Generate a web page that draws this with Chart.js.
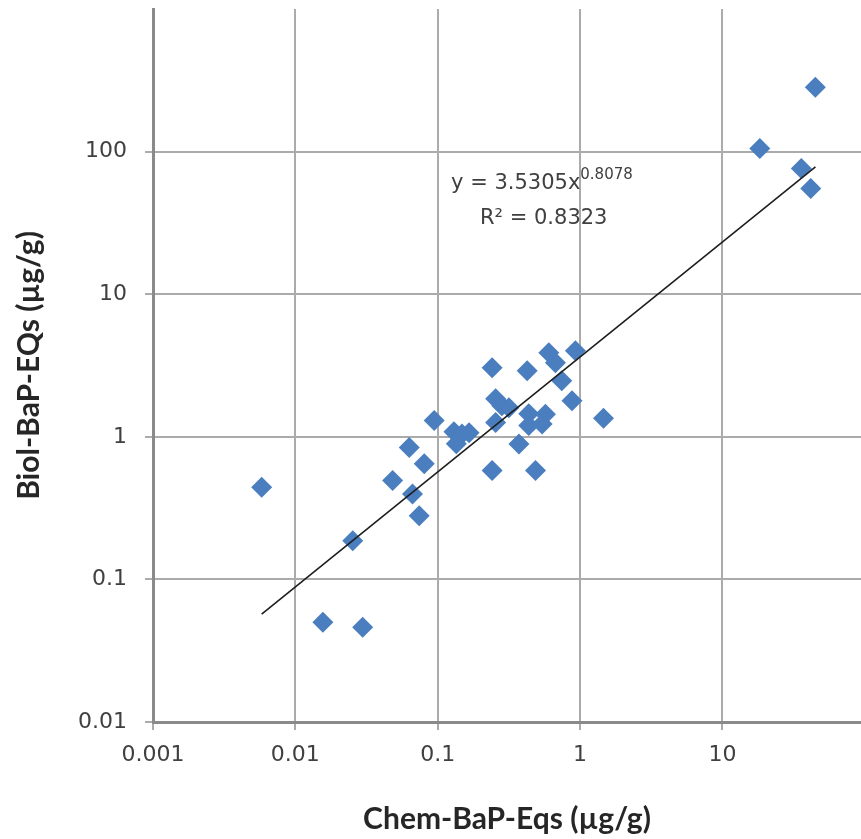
<!DOCTYPE html>
<html>
<head>
<meta charset="utf-8">
<script src="https://cdn.jsdelivr.net/npm/chart.js@4/dist/chart.umd.min.js"></script>
<style>
  html, body { margin: 0; padding: 0; background: #fff; overflow: hidden; }
  #wrap { width: 861px; height: 839px; position: relative; }
  canvas { display: block; }
</style>
</head>
<body>
<div id="wrap"><canvas id="chart"></canvas></div>
<script>
// valori (scala log)
const chemEqs = [0.0058, 0.0156, 0.0297, 0.0253, 0.0482, 0.0631, 0.0665, 0.0741, 0.0804, 0.0944,
  0.130, 0.148, 0.135, 0.166, 0.241, 0.255, 0.282, 0.255, 0.241, 0.316,
  0.372, 0.425, 0.436, 0.436, 0.486, 0.541, 0.571, 0.603, 0.671, 0.743,
  0.927, 0.877, 1.46, 18.3, 35.8, 41.7, 44.9];
const biolEqs = [0.443, 0.0501, 0.0462, 0.187, 0.493, 0.843, 0.397, 0.280, 0.646, 1.30,
  1.086, 1.047, 0.895, 1.069, 3.05, 1.85, 1.65, 1.26, 0.580, 1.60,
  0.891, 2.90, 1.45, 1.20, 0.580, 1.23, 1.44, 3.88, 3.30, 2.47,
  4.01, 1.79, 1.35, 105, 76.2, 55.2, 283];

// linea di tendenza (estremi)
const trendX = [0.0058, 45];
const trendY = [0.057, 78];

const xTicks = [0.001, 0.01, 0.1, 1, 10];
const xTickLabels = ["0.001", "0.01", "0.1", "1", "10"];
const yTicks = [0.01, 0.1, 1, 10, 100];
const yTickLabels = ["0.01", "0.1", "1", "10", "100"];

const eqMain = "y = 3.5305x";
const eqExp = "0.8078";
const r2Label = "R² = 0.8323";

const tickFont = { family: "'DejaVu Sans', sans-serif", size: 22 };
const titleFont = { family: "Lato, 'Open Sans', sans-serif", size: 30, weight: "bold" };

// Scrive l'equazione della tendenza
const equationPlugin = {
  id: "equation",
  afterDatasetsDraw(chart) {
    const { ctx, scales } = chart;
    const x0 = scales.x.getPixelForValue(0.124);
    const y1 = scales.y.getPixelForValue(60);
    const y2 = scales.y.getPixelForValue(34);
    ctx.save();
    ctx.fillStyle = "#404040";
    ctx.textBaseline = "middle";
    ctx.font = "21px 'DejaVu Sans', sans-serif";
    ctx.fillText(eqMain, x0, y1);
    const w = ctx.measureText(eqMain).width;
    ctx.font = "15px 'DejaVu Sans', sans-serif";
    ctx.fillText(eqExp, x0 + w, y1 - 8);
    ctx.font = "21px 'DejaVu Sans', sans-serif";
    ctx.fillText(r2Label, x0 + 29, y2);
    ctx.restore();
  }
};

const ctx = document.getElementById("chart").getContext("2d");

new Chart(ctx, {
  type: "scatter",
  data: {
    datasets: [
      {
        label: "Tendenza",
        data: trendX.map((x, i) => ({ x: x, y: trendY[i] })),
        showLine: true,
        borderColor: "#1e1e1e",
        borderWidth: 1.6,
        pointRadius: 0,
        order: 0,
      },
      {
        label: "BaP-Eqs",
        data: chemEqs.map((x, i) => ({ x: x, y: biolEqs[i] })),
        pointStyle: "rectRot",
        pointRadius: 10.5,
        pointBackgroundColor: "#4a7ebf",
        pointBorderWidth: 0,
        order: 1,
      },
    ],
  },
  options: {
    responsive: true,
    maintainAspectRatio: false,
    animation: false,
    layout: { autoPadding: false, padding: { top: 9, right: 0, left: 0, bottom: 0 } },
    plugins: { legend: { display: false }, tooltip: { enabled: false } },
    scales: {
      x: {
        type: "logarithmic",
        position: "bottom",
        min: 0.001,
        max: 94,
        afterBuildTicks: (s) => { s.ticks = xTicks.map((v) => ({ value: v })); },
        afterFit: (s) => { s.height = 117; s.paddingLeft = 0; s.paddingRight = 0; },
        ticks: {
          callback: (v, i) => xTickLabels[i],
          font: tickFont,
          color: "#404040",
          padding: 12,
          maxRotation: 0,
          autoSkip: false,
        },
        grid: { color: "#ababab", lineWidth: 2, tickLength: 8 },
        border: { color: "#8a8a8a", width: 3 },
        title: {
          display: true,
          text: "Chem-BaP-Eqs (µg/g)",
          font: titleFont,
          color: "#262626",
          padding: { top: 4, bottom: 2 },
        },
      },
      y: {
        type: "logarithmic",
        min: 0.01,
        max: 1000,
        afterBuildTicks: (s) => { s.ticks = yTicks.map((v) => ({ value: v })); },
        afterFit: (s) => { s.width = 153; s.paddingTop = 0; s.paddingBottom = 0; },
        ticks: {
          callback: (v, i) => yTickLabels[i],
          font: tickFont,
          color: "#404040",
          padding: 18,
          autoSkip: false,
        },
        grid: { color: "#ababab", lineWidth: 2, tickLength: 8 },
        border: { color: "#8a8a8a", width: 3 },
        title: {
          display: true,
          text: "Biol-BaP-EQs (µg/g)",
          font: titleFont,
          color: "#262626",
          padding: { top: 11, bottom: 4 },
        },
      },
    },
  },
  plugins: [equationPlugin],
});
</script>
</body>
</html>
